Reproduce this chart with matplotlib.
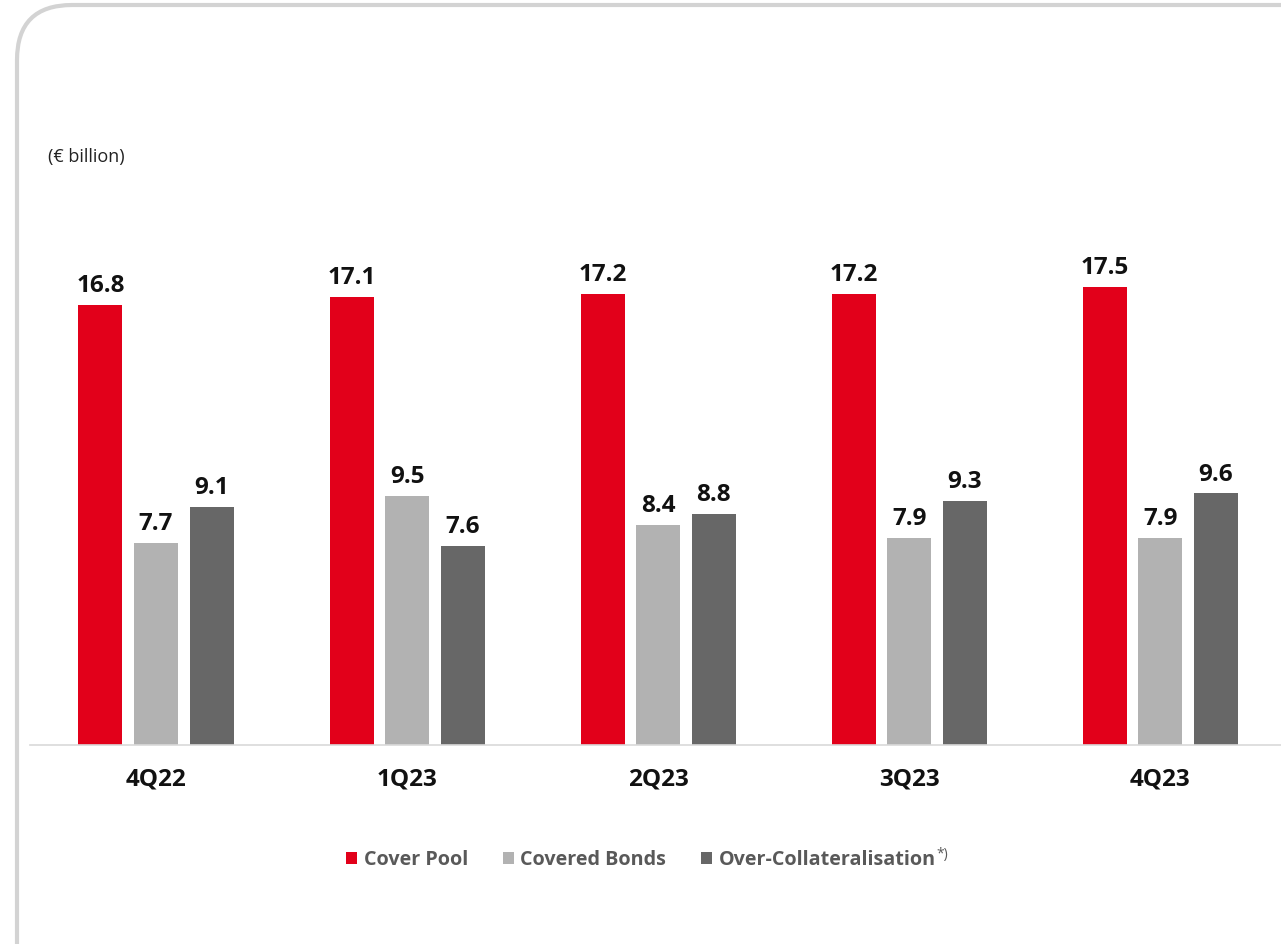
import numpy as np
import matplotlib.pyplot as plt
from matplotlib.patches import FancyBboxPatch, Patch
from matplotlib.transforms import IdentityTransform

plt.rcParams['font.family'] = ['Open Sans', 'DejaVu Sans']

quarters = ["4Q22", "1Q23", "2Q23", "3Q23", "4Q23"]
cover_pool = [16.8, 17.1, 17.2, 17.2, 17.5]
covered_bonds = [7.7, 9.5, 8.4, 7.9, 7.9]
over_collat = [9.1, 7.6, 8.8, 9.3, 9.6]

series = [
    ("Cover Pool", cover_pool, "#e2001a"),
    ("Covered Bonds", covered_bonds, "#b2b2b2"),
    ("Over-Collateralisation", over_collat, "#676767"),
]

W, H, DPI = 1281, 944, 100
GROUP = 251.1  # px between quarter groups


def main():
    fig = plt.figure(figsize=(W / DPI, H / DPI), dpi=DPI)

    # rounded panel border, running off the right and bottom edges
    frame = FancyBboxPatch((17, -80), 1400, 944 - 5 + 80,
                           boxstyle="round,pad=0,rounding_size=55",
                           transform=IdentityTransform(), fill=False,
                           edgecolor="#d3d3d3", linewidth=3)
    fig.patches.append(frame)

    ax = fig.add_axes([30 / W, 1 - 745 / H, 1251 / W, 545 / H])
    x = np.arange(len(quarters))
    width = 44 / GROUP
    step = 55.6 / GROUP

    for i, (name, vals, color) in enumerate(series):
        bars = ax.bar(x + (i - 1) * step, vals, width=width, color=color, label=name)
        ax.bar_label(bars, labels=[f"{v:.1f}" for v in vals], padding=5,
                     fontsize=17.5, fontweight="bold", color="#111111")

    ax.set_xlim(-126 / GROUP, -126 / GROUP + 1251 / GROUP)
    ax.set_ylim(0, 545 / 26.2)
    ax.set_xticks(x)
    ax.set_xticklabels(quarters, fontsize=17.5, fontweight="bold", color="#111111")
    ax.tick_params(axis="x", length=0, pad=16)
    ax.set_yticks([])
    for s in ["top", "left", "right"]:
        ax.spines[s].set_visible(False)
    ax.spines["bottom"].set_color("#d9d9d9")
    ax.spines["bottom"].set_linewidth(1.2)

    fig.text(48 / W, 1 - 157 / H, "(\u20ac billion)", fontsize=13, color="#222222",
             ha="left", va="center")

    handles = [Patch(facecolor=c, edgecolor="none") for _, _, c in series]
    leg = fig.legend(handles, [n for n, _, _ in series], ncol=3,
                     loc="center", bbox_to_anchor=(641 / W, 1 - 860 / H),
                     frameon=False, handlelength=0.55, handleheight=0.55,
                     handletextpad=0.35, columnspacing=1.75,
                     prop={"size": 14.2, "weight": "bold"})
    for t in leg.get_texts():
        t.set_color("#595959")

    # footnote marker after the last legend entry
    fig.canvas.draw()
    bb = leg.get_texts()[-1].get_window_extent()
    fig.text((bb.x1 + 1) / W, (bb.y1 + 3) / H, "*)", fontsize=10,
             color="#595959", ha="left", va="top")

    fig.savefig("out.png", dpi=DPI)


if __name__ == "__main__":
    main()
